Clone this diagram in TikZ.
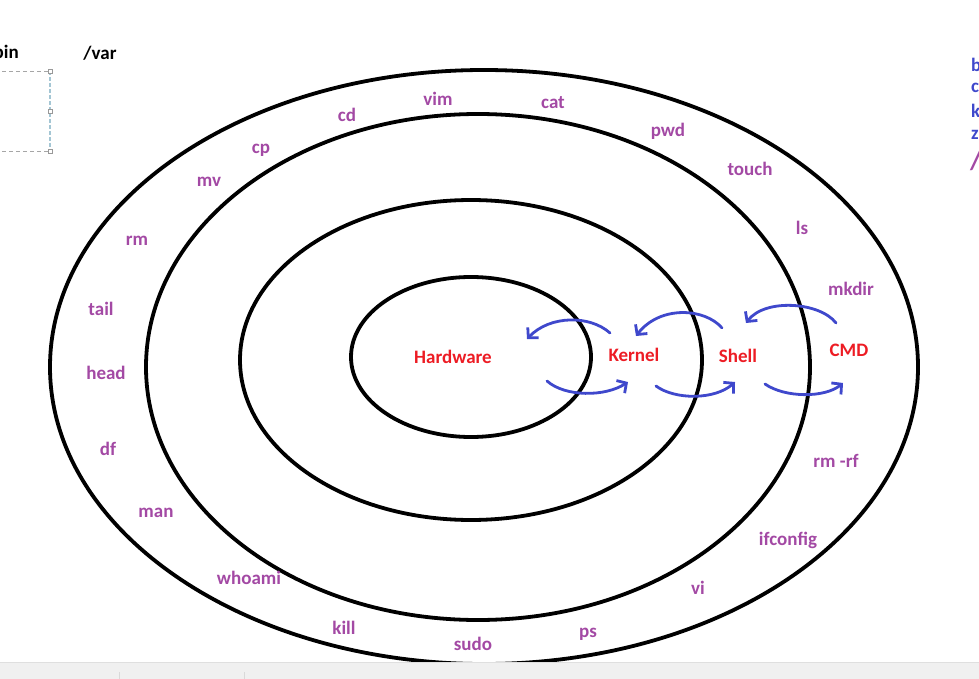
\documentclass[tikz,border=0pt]{standalone}
\usepackage{fontspec}
\setmainfont{Carlito}
\usepackage{xcolor}
\usepackage{tikz}
\usetikzlibrary{arrows.meta,calc,positioning}
\definecolor{cmdpurple}{HTML}{A349A4}
\definecolor{layerred}{HTML}{ED1C24}
\definecolor{flowblue}{HTML}{3F48CC}
\newcommand{\lblfont}{\fontsize{19}{22}\selectfont\bfseries}

\begin{document}
\begin{tikzpicture}[
    x=1pt, y=-1pt,
    nosep/.style={inner sep=0},
    ring/.style={draw, line width=3.8pt},
    cmdtext/.style={nosep, text=cmdpurple, font=\lblfont},
    layertext/.style={nosep, text=layerred, font=\lblfont},
    dirtext/.style={nosep, text=black, font=\lblfont},
    edgetext/.style={nosep, anchor=west, text=flowblue, font=\lblfont},
    handle/.style={draw=gray!80, fill=white, line width=0.6pt},
    flow/.style={draw=flowblue, line width=2.8pt, line cap=round,
        -{Straight Barb[length=7pt, width=15pt, line width=2.8pt]}}]
\useasboundingbox (0,0) rectangle (979,679);
\clip (0,0) rectangle (979,679);
\path[fill=white] (0,0) rectangle (979,679);

\path[ring] (484,367) ellipse [x radius=434, y radius=297];
\path[ring] (478,367) ellipse [x radius=332, y radius=253];
\path[ring] (471,360) ellipse [x radius=231, y radius=160];
\path[ring] (471,357) ellipse [x radius=120, y radius=80];

\node[layertext] (hw)     at (453,357) {Hardware};
\node[layertext] (kernel) at (634,355) {Kernel};
\node[layertext] (shell)  at (738,356) {Shell};
\node[layertext] (cmd)    at (849,350) {CMD};

\node[cmdtext] (vim)      at (438,99)  {vim};
\node[cmdtext] (cat)      at (553,103) {cat};
\node[cmdtext] (cd)       at (347,115) {cd};
\node[cmdtext] (pwd)      at (668,131) {pwd};
\node[cmdtext] (cp)       at (261,150) {cp};
\node[cmdtext] (touch)    at (750,169) {touch};
\node[cmdtext] (mv)       at (209,182) {mv};
\node[cmdtext] (ls)       at (802,228) {ls};
\node[cmdtext] (rm)       at (137,241) {rm};
\node[cmdtext] (mkdir)    at (851,289) {mkdir};
\node[cmdtext] (tail)     at (101,309) {tail};
\node[cmdtext] (head)     at (106,373) {head};
\node[cmdtext] (df)       at (108,449) {df};
\node[cmdtext] (rmrf)     at (836,461) {rm -rf};
\node[cmdtext] (man)      at (156,513) {man};
\node[cmdtext] (ifconfig) at (788,540) {ifconfig};
\node[cmdtext] (whoami)   at (249,578) {whoami};
\node[cmdtext] (vi)       at (698,588) {vi};
\node[cmdtext] (kill)     at (344,628) {kill};
\node[cmdtext] (sudo)     at (473,644) {sudo};
\node[cmdtext] (ps)       at (588,634) {ps};

\path[flow] ([shift={(-24,-22)}]kernel.center) .. controls ([shift={(-44,-40)}]kernel.center) and ([shift={(97,-42)}]hw.center) .. ([shift={(74,-18)}]hw.center);
\path[flow] ([shift={(-16,-28)}]shell.center) .. controls ([shift={(-33,-48)}]shell.center) and ([shift={(26,-50)}]kernel.center) .. ([shift={(2,-19)}]kernel.center);
\path[flow] ([shift={(-13,-27)}]cmd.center) .. controls ([shift={(-29,-48)}]cmd.center) and ([shift={(27,-58)}]shell.center) .. ([shift={(8,-33)}]shell.center);
\path[flow] ([shift={(94,24)}]hw.center) .. controls ([shift={(112,40)}]hw.center) and ([shift={(-29,42)}]kernel.center) .. ([shift={(-6,27)}]kernel.center);
\path[flow] ([shift={(22,31)}]kernel.center) .. controls ([shift={(41,45)}]kernel.center) and ([shift={(-23,44)}]shell.center) .. ([shift={(-3,26)}]shell.center);
\path[flow] ([shift={(27,28)}]shell.center) .. controls ([shift={(47,42)}]shell.center) and ([shift={(-24,48)}]cmd.center) .. ([shift={(-6,33)}]cmd.center);

\node[dirtext, anchor=east] (bin) at (19,52) {bin};
\node[dirtext] (var) at (100,53) {/var};
\path[draw=gray!70, dash pattern=on 4pt off 3pt, line width=0.8pt] (-5,71) -- (50,71) (-5,151) -- (50,151);
\path[draw=cyan!40!gray!60, dash pattern=on 4pt off 2pt, line width=1.2pt] (50,71) -- (50,151);
\path[handle] (48,69) rectangle (52,73);
\path[handle] (48,109) rectangle (52,113);
\path[handle] (48,149) rectangle (52,153);

\node[edgetext] (eb) at (971,65)  {b};
\node[edgetext] (ec) at (971,88)  {c};
\node[edgetext] (ek) at (971,111) {k};
\node[edgetext] (ez) at (971,135) {z};
\node[nosep, anchor=west, text=cmdpurple, font=\fontsize{27}{30}\selectfont\bfseries] (eslash) at (970,161) {/};

\path[fill=gray!12] (0,662) rectangle (979,679);
\path[draw=gray!25, line width=0.6pt] (0,662) -- (979,662);
\path[draw=gray!30, line width=0.6pt] (119,672) -- (119,679) (244,672) -- (244,679);

\end{tikzpicture}
\end{document}
